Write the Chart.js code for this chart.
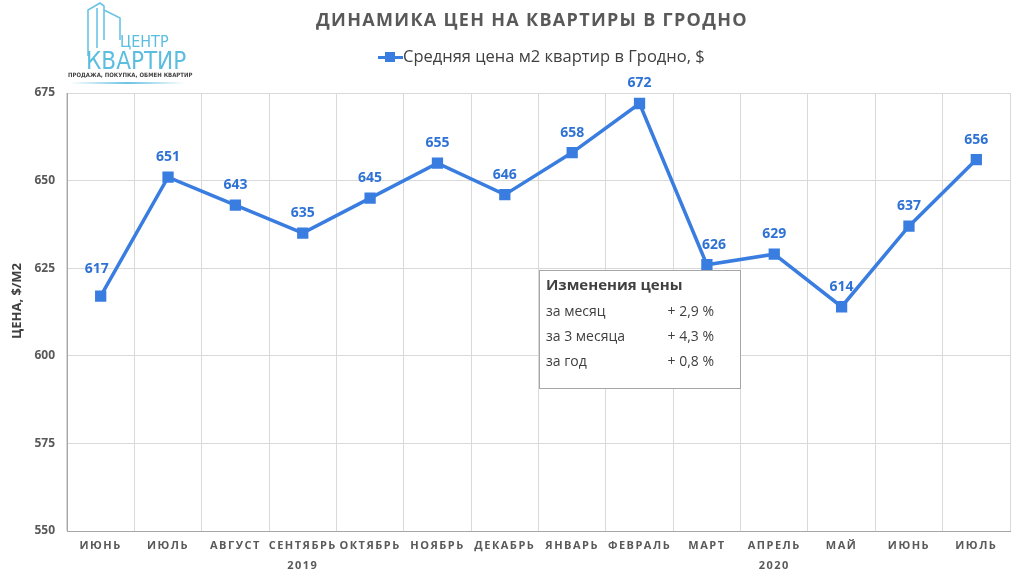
<!DOCTYPE html>
<html>
<head>
<meta charset="utf-8">
<script src="https://cdn.jsdelivr.net/npm/chart.js@4"></script>
<style>
  html, body { margin: 0; padding: 0; background: #fff; }
  #wrap { width: 1024px; height: 576px; position: relative; }
</style>
</head>
<body>
<div id="wrap"><canvas id="chart" width="1024" height="576"></canvas></div>
<script>
const months = ['ИЮНЬ', 'ИЮЛЬ', 'АВГУСТ', 'СЕНТЯБРЬ', 'ОКТЯБРЬ', 'НОЯБРЬ', 'ДЕКАБРЬ',
  'ЯНВАРЬ', 'ФЕВРАЛЬ', 'МАРТ', 'АПРЕЛЬ', 'МАЙ', 'ИЮНЬ', 'ИЮЛЬ'];
const prices = [617, 651, 643, 635, 645, 655, 646, 658, 672, 626, 629, 614, 637, 656];
const years = [
  { label: '2019', from: 0, to: 6 },
  { label: '2020', from: 7, to: 13 }
];
const changeTitle = 'Изменения цены';
const changeRows = [
  ['за месяц', '+ 2,9 %'],
  ['за 3 месяца', '+ 4,3 %'],
  ['за год', '+ 0,8 %']
];

const blue = '#3a7de0';
const labelBlue = '#2f72d6';
const grey = '#595959';
const font = "'Open Sans', 'Noto Sans', sans-serif";

const decorations = {
  id: 'decorations',
  afterLayout(chart) {
    // spaced-out letters on the month labels only
    const x = chart.scales.x;
    if (!x._spaced) {
      const orig = x.drawLabels.bind(x);
      x.drawLabels = (area) => {
        chart.ctx.letterSpacing = '1.5px';
        orig(area);
        chart.ctx.letterSpacing = '0px';
      };
      x._spaced = true;
    }
  },
  beforeDraw(chart) {
    const ctx = chart.ctx;
    ctx.save();
    // logo
    ctx.strokeStyle = '#6cc4e4';
    ctx.lineWidth = 1.6;
    ctx.beginPath();
    ctx.moveTo(88, 56); ctx.lineTo(88, 10); ctx.lineTo(100, 3); ctx.lineTo(104, 6);
    ctx.lineTo(104, 40);
    ctx.moveTo(97, 8); ctx.lineTo(97, 48);
    ctx.moveTo(104, 10); ctx.lineTo(120, 18); ctx.lineTo(120, 40);
    ctx.stroke();
    ctx.fillStyle = '#5bbde0';
    ctx.font = "16px 'DejaVu Sans Condensed', sans-serif";
    ctx.textBaseline = 'alphabetic';
    ctx.fillText('ЦЕНТР', 120, 47);
    ctx.font = "24px 'DejaVu Sans Condensed', sans-serif";
    ctx.fillText('КВАРТИР', 86, 69);
    ctx.fillStyle = '#444';
    ctx.font = "bold 6px 'DejaVu Sans Condensed', sans-serif";
    ctx.fillText('ПРОДАЖА, ПОКУПКА, ОБМЕН КВАРТИР', 68, 77);
    const grad = ctx.createLinearGradient(70, 0, 185, 0);
    grad.addColorStop(0, 'rgba(108,196,228,0)');
    grad.addColorStop(0.5, 'rgba(108,196,228,1)');
    grad.addColorStop(1, 'rgba(108,196,228,0)');
    ctx.fillStyle = grad;
    ctx.fillRect(70, 82, 115, 2);

    // title
    ctx.letterSpacing = '1.3px';
    ctx.fillStyle = grey;
    ctx.font = 'bold 18px ' + font;
    ctx.textAlign = 'center';
    ctx.textBaseline = 'middle';
    ctx.fillText('ДИНАМИКА ЦЕН НА КВАРТИРЫ В ГРОДНО', 532, 21);
    ctx.letterSpacing = '0px';

    // legend
    const ds = chart.data.datasets[0];
    ctx.fillStyle = blue;
    ctx.fillRect(378, 56, 25, 3);
    ctx.fillRect(385, 52, 10, 10);
    ctx.fillStyle = '#404040';
    ctx.font = '16.5px ' + font;
    ctx.textAlign = 'left';
    ctx.fillText(ds.label, 403, 57);

    // y axis title
    ctx.save();
    ctx.translate(17, 301);
    ctx.rotate(-Math.PI / 2);
    ctx.textAlign = 'center';
    ctx.font = 'bold 13px ' + font;
    ctx.fillStyle = '#404040';
    ctx.fillText('ЦЕНА, $/М2', 0, 0);
    ctx.restore();
    ctx.restore();
  },
  afterDatasetsDraw(chart) {
    const ctx = chart.ctx;
    ctx.save();
    // point value labels
    const meta = chart.getDatasetMeta(0);
    ctx.font = 'bold 14px ' + font;
    ctx.fillStyle = labelBlue;
    ctx.textAlign = 'center';
    ctx.textBaseline = 'middle';
    meta.data.forEach((pt, i) => {
      let dx = 0, dy = -20;
      if (i === 0) { dx = -4; dy = -27; }
      if (i === 9) { dx = 7; }
      ctx.fillText(String(prices[i]), pt.x + dx, pt.y + dy);
    });

    // year labels
    const x = chart.scales.x;
    ctx.letterSpacing = '1.5px';
    ctx.font = 'bold 11px ' + font;
    ctx.fillStyle = grey;
    years.forEach(y => {
      const cx = (x.getPixelForValue(y.from) + x.getPixelForValue(y.to)) / 2;
      ctx.fillText(y.label, cx, 566);
    });
    ctx.letterSpacing = '0px';

    // changes box
    ctx.fillStyle = '#fff';
    ctx.fillRect(539, 270, 201, 118);
    ctx.strokeStyle = '#a6a6a6';
    ctx.lineWidth = 1;
    ctx.strokeRect(539.5, 270.5, 201, 118);
    ctx.textAlign = 'left';
    ctx.fillStyle = '#404040';
    ctx.font = 'bold 15px ' + font;
    ctx.fillText(changeTitle, 546, 286);
    ctx.font = '14px ' + font;
    changeRows.forEach((r, i) => {
      const yy = 312 + i * 25;
      ctx.textAlign = 'left';
      ctx.fillText(r[0], 546, yy);
      ctx.textAlign = 'right';
      ctx.fillText(r[1], 714, yy);
    });
    ctx.restore();
  }
};

new Chart(document.getElementById('chart'), {
  type: 'line',
  data: {
    labels: months,
    datasets: [{
      label: 'Средняя цена м2 квартир в Гродно, $',
      data: prices,
      borderColor: blue,
      backgroundColor: blue,
      borderWidth: 3.5,
      pointStyle: 'rect',
      pointRadius: 5.5,
      pointHoverRadius: 5.5,
      tension: 0
    }]
  },
  options: {
    responsive: false,
    animation: false,
    events: [],
    layout: { padding: { top: 93, right: 14, left: 0, bottom: 0 } },
    plugins: {
      title: { display: false },
      tooltip: { enabled: false },
      legend: { display: false }
    },
    scales: {
      x: {
        offset: true,
        grid: { offset: true, color: '#d9d9d9', drawTicks: false },
        border: { color: '#a6a6a6' },
        ticks: {
          autoSkip: false,
          maxRotation: 0,
          color: grey,
          padding: 8,
          font: { family: font, size: 11, weight: 'bold' }
        },
        afterFit(s) { s.height = 45; }
      },
      y: {
        min: 550,
        max: 675,
        grid: { color: '#d9d9d9', drawTicks: false },
        border: { color: '#a6a6a6' },
        ticks: {
          stepSize: 25,
          color: grey,
          padding: 12,
          font: { family: font, size: 12, weight: 'bold' }
        },
        afterFit(s) { s.width = 67; }
      }
    }
  },
  plugins: [decorations]
});
</script>
</body>
</html>
